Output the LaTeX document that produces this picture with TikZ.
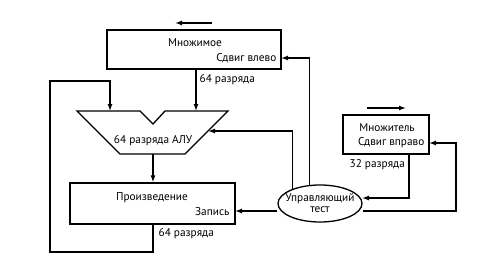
\documentclass[tikz,border=0pt]{standalone}
\usepackage{fontspec}
\setmainfont{PT Sans}
\usetikzlibrary{arrows.meta,shapes.geometric}
\begin{document}
\begin{tikzpicture}[x=1pt,y=-1pt,
  line width=1.3pt,
  arr/.style={-{Latex[length=7pt,width=5pt]}},
  box/.style={draw,rectangle,inner sep=0pt},
  txt/.style={inner sep=0pt,font=\fontsize{11.3}{13}\selectfont},
]
\useasboundingbox (0,0) rectangle (500,276);
% boxes
\node[box,minimum width=174pt,minimum height=39pt] (mcand) at (194,49.5) {};
\node[box,minimum width=165pt,minimum height=41pt] (prod) at (152.5,203.5) {};
\node[box,minimum width=86pt,minimum height=39pt] (mplier) at (386,134.5) {};
\node[draw,ellipse,inner sep=0pt,minimum width=84pt,minimum height=37pt,
  label={[txt,align=center]center:Управляющий\\[-2pt]тест}] (ctrl) at (320,203.5) {};
% ALU
\coordinate (aluTL) at (77,111);
\coordinate (aluTR) at (228,111);
\coordinate (aluBL) at (120,154);
\coordinate (aluBR) at (185,154);
\draw[line join=miter] (aluTL) -- (140,111) -- (153,124) -- (165,111) -- (aluTR) -- (aluBR) -- (aluBL) -- cycle;
\node[txt] (alutxt) at (153,141) {64 разряда АЛУ};
\coordinate (aluInL) at (110,111);
\coordinate (aluInR) at (196,111);
\coordinate (aluOut) at (153,154);
\coordinate (aluSide) at (208,131);
% texts
\node[txt] (t1) at (195,43) {Множимое};
\node[txt,anchor=east] (t2) at (277,58) {Сдвиг влево};
\node[txt] (t3) at (152,198) {Произведение};
\node[txt,anchor=east] (t4) at (230,212) {Запись};
\node[txt] (t5) at (387,128) {Множитель};
\node[txt,anchor=east] (t6) at (425,143) {Сдвиг вправо};
\node[txt,anchor=west] (l1) at (199,80) {64 разряда};
\node[txt,anchor=west] (l2) at (349,165) {32 разряда};
\node[txt,anchor=west] (l3) at (158,234) {64 разряда};
% direction arrows
\coordinate (da1) at (212,23); \coordinate (da2) at (175,23);
\coordinate (db1) at (367,108); \coordinate (db2) at (406,108);
\draw[arr] (da1) -- (da2);
\draw[arr] (db1) -- (db2);
% connectors
\draw[arr] (mcand.south -| aluInR) -- (aluInR);
\draw[arr] (aluOut) -- (prod.north -| aluOut);
\coordinate (lp1) at (153,252);
\coordinate (lp2) at (50,252);
\coordinate (lp3) at (50,81);
\coordinate (lp4) at (110,81);
\draw[arr] (prod.south -| aluOut) -- (lp1) -- (lp2) -- (lp3) -- (lp4) -- (aluInL);
\coordinate (mcIn) at (281,58);
\draw[arr] (ctrl.119) |- (mcIn);
\draw[arr] (ctrl.152) |- (aluSide);
\coordinate (prIn) at (235,211);
\draw[arr] (ctrl.west |- prIn) -- (prIn);
\coordinate (mpIn) at (429,143);
\coordinate (rc) at (456,211);
\draw[arr] (ctrl.east |- rc) -- (rc) |- (mpIn);
\coordinate (mpOut) at (409,154);
\coordinate (ctIn) at (362,198);
\draw[arr] (mpOut) |- (ctIn);
\end{tikzpicture}
\end{document}
